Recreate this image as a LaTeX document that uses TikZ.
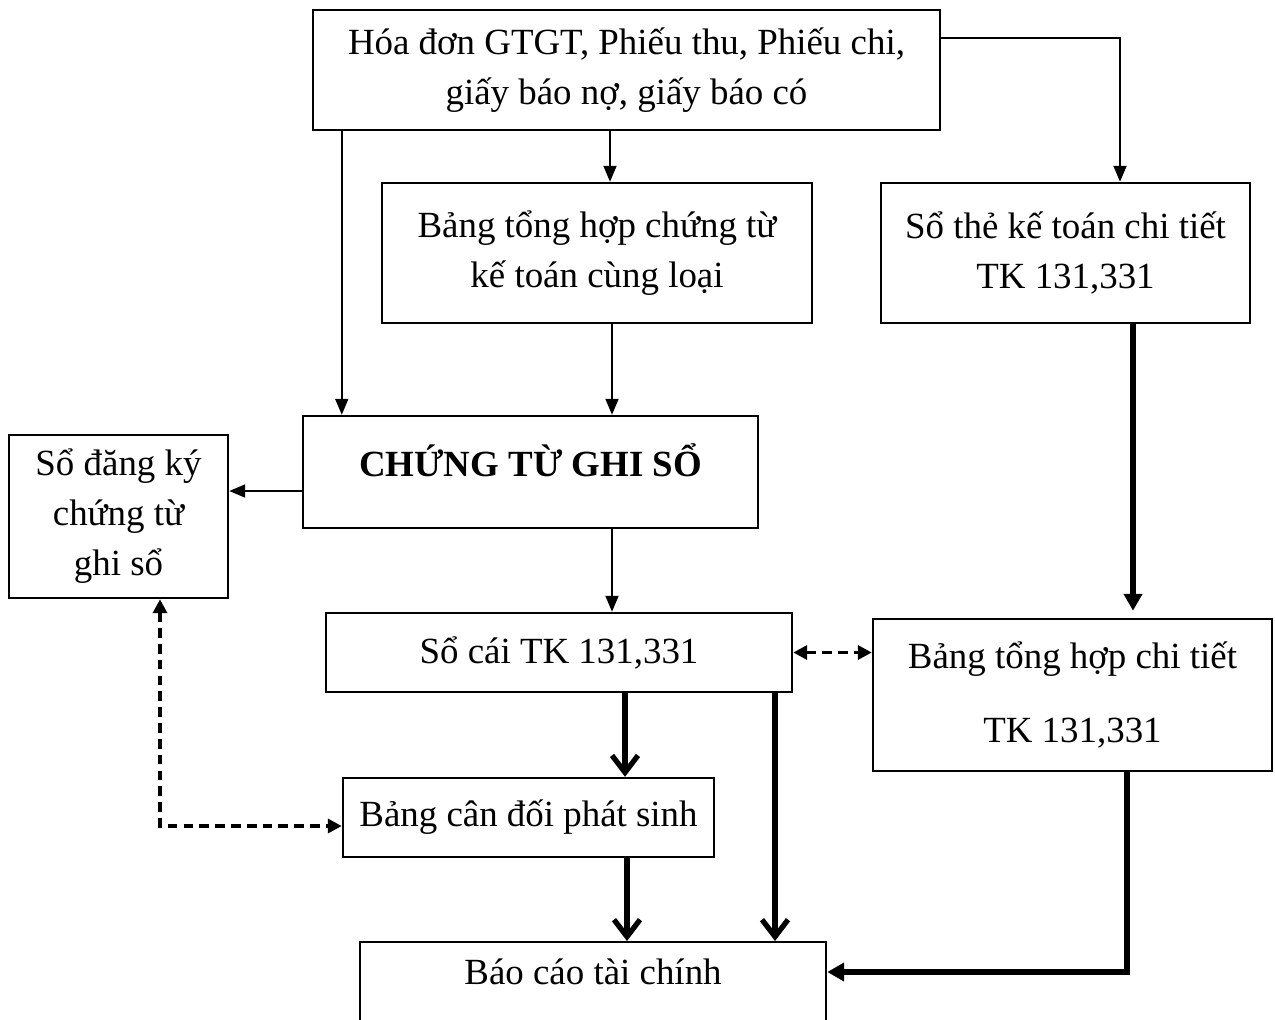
\documentclass[tikz,border=0pt]{standalone}
\usepackage{fontspec}
\setmainfont{Liberation Serif}
\usetikzlibrary{positioning,arrows.meta,calc}

\begin{document}
\begin{tikzpicture}[
  font=\fontsize{21}{28.5}\selectfont,
  box/.style={draw=black, line width=1.4pt, align=center, inner sep=0pt},
  thinarrow/.style={line width=1.1pt, -{Triangle[length=3.2mm,width=2.6mm]}},
  heavyarrow/.style={line width=3pt, -{Triangle[length=3.4mm,width=3.6mm]}},
  barbarrow/.style={line width=3pt, -{Straight Barb[length=3.4mm,width=5.2mm,line width=3pt]}},
  dasharrow/.style={line width=2pt, dash pattern=on 5.5pt off 3.5pt,
                    {Triangle[length=2.8mm,width=2.8mm]}-{Triangle[length=2.8mm,width=2.8mm]}},
]
\clip (0,0) rectangle (25.5,-20.38);

% ---- boxes ----
\node[box, minimum width=12.54cm, minimum height=2.4cm] (chungtu) at (12.53,-1.4)
  {Hóa đơn GTGT, Phiếu thu, Phiếu chi,\\giấy báo nợ, giấy báo có};
\node[box, minimum width=8.6cm, minimum height=2.8cm] (bangth) at (11.94,-5.06)
  {Bảng tổng hợp chứng từ\\kế toán cùng loại};
\node[box, minimum width=7.38cm, minimum height=2.8cm] (sothe) at (21.31,-5.06)
  {Sổ thẻ kế toán chi tiết\\TK 131,331};
\node[box, minimum width=9.1cm, minimum height=2.24cm, text depth=0.48cm,
      font=\fontsize{21}{28.5}\selectfont\bfseries] (ctgs) at (10.61,-9.44)
  {CHỨNG TỪ GHI SỔ};
\node[box, minimum width=4.38cm, minimum height=3.26cm] (sodk) at (2.37,-10.33)
  {Sổ đăng ký\\chứng từ\\ghi sổ};
\node[box, minimum width=9.32cm, minimum height=1.58cm] (socai) at (11.18,-13.05)
  {Sổ cái TK 131,331};
\node[box, minimum width=7.98cm, minimum height=3.04cm] (bangct) at (21.45,-13.9)
  {Bảng tổng hợp chi tiết\\[14pt]TK 131,331};
\node[box, minimum width=7.42cm, minimum height=1.58cm] (candoi) at (10.57,-16.35)
  {Bảng cân đối phát sinh};
\node[box, minimum width=9.32cm, anchor=north, text height=0.84cm, text depth=2cm]
  (baocao) at (11.86,-18.82) {Báo cáo tài chính};

% ---- thin arrows ----
\draw[thinarrow] ([xshift=6mm]chungtu.south west) -- ([xshift=6mm]chungtu.south west |- ctgs.north);
\draw[thinarrow] ([xshift=2.6mm]bangth.north |- chungtu.south) -- ([xshift=2.6mm]bangth.north);
\draw[thinarrow] ([yshift=6.4mm]chungtu.east) -| ([xshift=10.9mm]sothe.north);
\draw[thinarrow] ([xshift=3mm]bangth.south) -- ([xshift=3mm]bangth.south |- ctgs.north);
\draw[thinarrow] ([yshift=-3.8mm]ctgs.west) -- ([yshift=-3.8mm]ctgs.west -| sodk.east);
\draw[thinarrow] ([xshift=16.3mm]ctgs.south) -- ([xshift=16.3mm]ctgs.south |- socai.north);

% ---- heavy arrows ----
\draw[heavyarrow] ([xshift=13.5mm]sothe.south) -- ([xshift=13.5mm,yshift=1.4mm]sothe.south |- bangct.north);
\draw[barbarrow] ([xshift=13.2mm]socai.south) -- ([xshift=13.2mm]socai.south |- candoi.north);
\draw[barbarrow] ([xshift=43.2mm]socai.south) -- ([xshift=43.2mm]socai.south |- baocao.north);
\draw[barbarrow] ([xshift=19.7mm]candoi.south) -- ([xshift=19.7mm]candoi.south |- baocao.north);
\draw[heavyarrow] ([xshift=10.9mm]bangct.south) |- ([yshift=-6.2mm]baocao.north east);

% ---- dashed links ----
\draw[dasharrow] (socai.east) -- (socai.east -| bangct.west);
\draw[dasharrow] ([xshift=8.3mm]sodk.south) |- ([yshift=-1.7mm]candoi.west);

\end{tikzpicture}
\end{document}
